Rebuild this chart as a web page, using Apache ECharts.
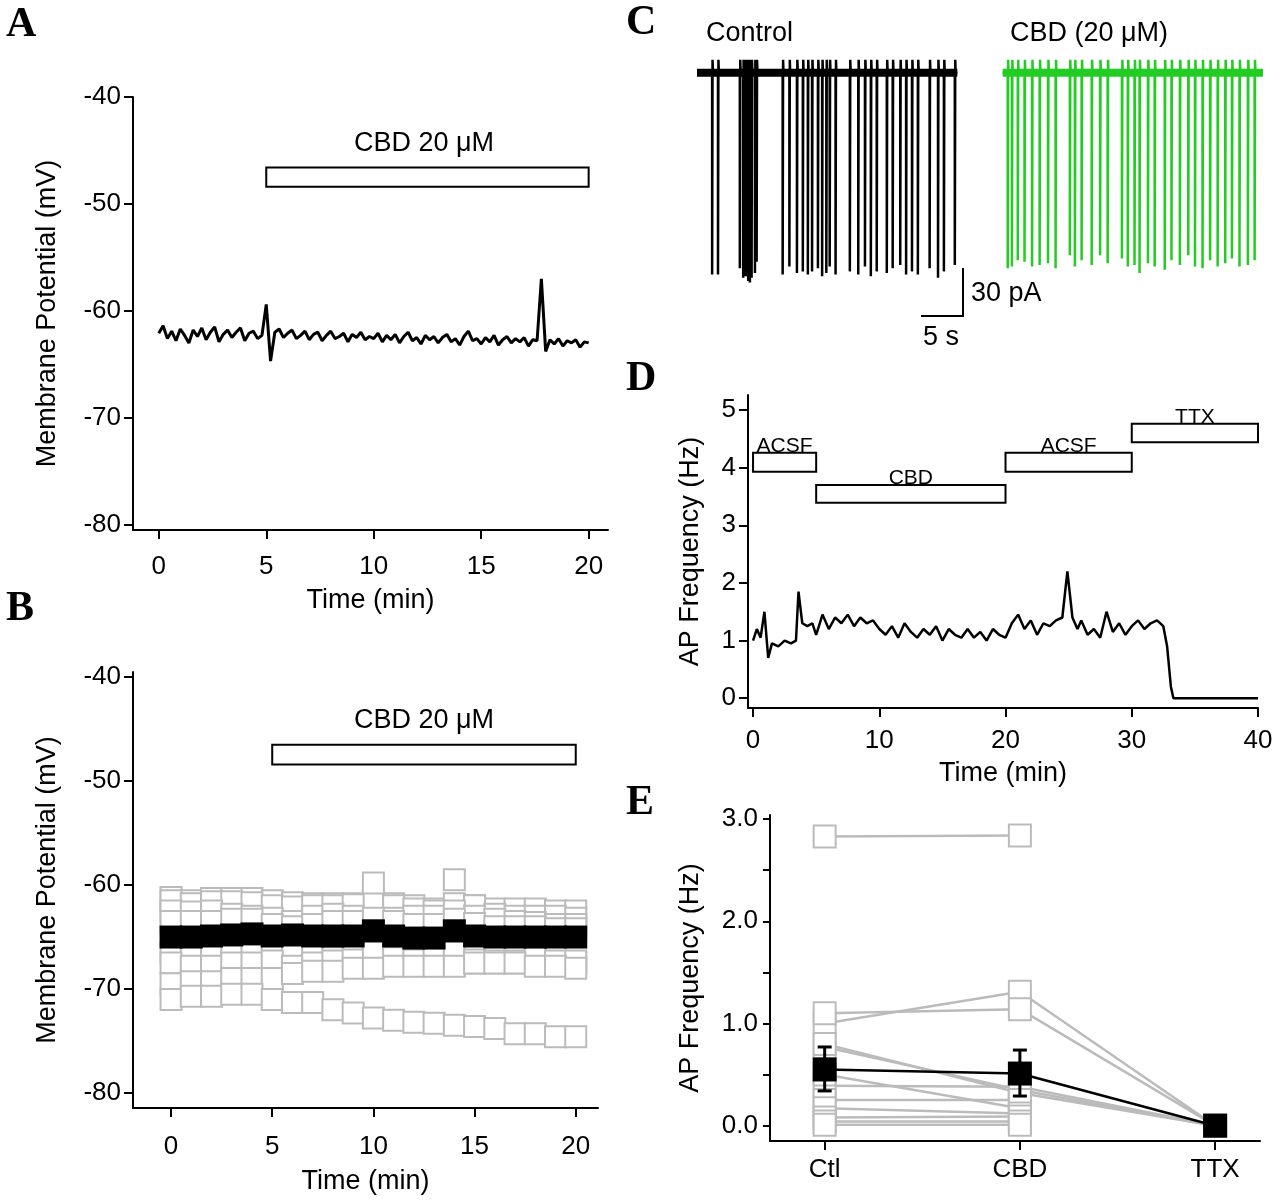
<!DOCTYPE html>
<html><head><meta charset="utf-8">
<script src="https://cdn.jsdelivr.net/npm/echarts@6/dist/echarts.min.js"></script>
<style>body{margin:0;background:#fff}#c{width:1280px;height:1201px}</style>
</head><body><div id="c"></div>
<script>
// A: membrane potential trace, sampled every 0.2 min
var aStep = 0.2;
var aVm = [-62.1,-61.4,-62.6,-61.9,-62.8,-61.7,-62.3,-63.0,-61.8,-62.4,-61.6,-62.7,-62.0,-61.5,-62.9,-62.2,-61.8,-62.5,-62.0,-61.6,-62.8,-62.1,-61.9,-62.6,-62.3,
  -59.4,-64.7,-62.0,-61.7,-62.5,-62.1,-61.8,-62.6,-62.3,-61.9,-62.7,-62.2,-62.0,-62.8,-62.3,-61.9,-62.6,-62.4,-62.1,-62.9,-62.2,-62.5,-62.0,-62.7,-62.4,
  -62.6,-62.1,-62.9,-62.3,-62.7,-62.2,-63.0,-62.4,-62.0,-62.8,-62.5,-63.1,-62.3,-62.7,-62.4,-63.0,-62.5,-62.2,-62.9,-62.6,-63.2,-62.4,-61.9,-62.8,-62.6,-63.1,-62.5,-62.9,-62.3,-63.2,-62.7,-62.4,-63.0,-62.6,-62.9,-62.5,-63.3,-62.7,-62.8,
  -57.0,-63.8,-62.7,-63.1,-62.6,-63.3,-62.8,-63.0,-62.7,-63.4,-62.9,-63.0];
var aBar = [[5, 20, -46.6, -48.4]];

// B: individual cells (one value per minute, 0..20) and mean
var bTime = [0,1,2,3,4,5,6,7,8,9,10,11,12,13,14,15,16,17,18,19,20];
var bCells = [
  [-61.2,-61.5,-61.3,-61.3,-61.3,-61.5,-61.7,-61.8,-61.8,-61.8,-61.6,-61.8,-62.0,-62.3,-61.8,-62.0,-62.3,-62.3,-62.3,-62.5,-62.5],
  [-61.5,-61.8,-61.6,-61.6,-61.7,-62.0,-62.1,-62.0,-62.0,-61.9,-59.8,-62.0,-62.3,-62.5,-59.5,-62.0,-62.8,-63.0,-63.0,-63.0,-63.2],
  [-62.5,-62.6,-62.5,-62.8,-63.0,-63.2,-63.5,-63.0,-62.8,-63.0,-63.5,-63.2,-63.0,-63.0,-62.5,-63.0,-63.3,-63.5,-63.6,-63.8,-63.8],
  [-63.5,-63.5,-63.5,-63.3,-63.3,-63.8,-64.0,-63.8,-63.5,-63.5,-63.2,-63.5,-63.8,-63.8,-63.3,-63.7,-64.0,-64.0,-64.0,-64.2,-64.2],
  [-66.5,-66.5,-66.3,-66.3,-66.3,-66.5,-66.8,-66.8,-67.0,-66.8,-66.5,-67.5,-67.5,-67.5,-67.5,-67.5,-67.5,-67.3,-67.5,-67.5,-67.5],
  [-67.5,-67.8,-67.8,-67.5,-67.5,-67.3,-67.8,-67.5,-67.3,-67.2,-66.5,-67.0,-67.2,-66.8,-66.5,-67.2,-67.3,-67.5,-67.0,-67.3,-67.3],
  [-69.5,-69.3,-69.3,-69.0,-69.0,-69.0,-68.5,-68.3,-68.3,-68.0,-68.0,-67.8,-67.8,-67.8,-67.8,-67.5,-67.5,-67.5,-67.8,-67.8,-68.0],
  [-71.0,-70.7,-70.7,-70.5,-70.5,-71.0,-71.3,-71.3,-72.0,-72.3,-72.8,-73.0,-73.2,-73.3,-73.5,-73.6,-73.8,-74.3,-74.3,-74.6,-74.6]
];
var bMean = [-65.0,-65.0,-64.9,-64.8,-64.7,-64.9,-64.8,-64.9,-64.9,-64.9,-64.4,-64.9,-65.1,-65.1,-64.4,-64.9,-65.0,-65.0,-65.0,-65.0,-65.0];
var bFit = [[0, -65], [20, -65]];
var bBar = [[5, 20, -46.5, -48.4]];

// C: current traces, spike times (s) and amplitudes (pA)
var cCtlStart = 0, cCtlEnd = 31;
var cCtlSpikes = [1.8,2.5,5.1,5.5,5.8,6.1,6.3,6.5,6.9,7.1,10.2,11.0,11.9,12.6,13.2,13.7,14.4,14.9,15.4,15.8,16.5,18.2,19.2,20.0,20.7,21.4,22.6,23.3,24.2,24.9,25.6,26.3,27.7,28.7,29.4,30.7];
var cCtlAmp = [-126,-126,-122,-128,-127,-130,-131,-128,-125,-118,-126,-121,-125,-124,-126,-124,-122,-127,-125,-121,-126,-124,-126,-121,-127,-124,-125,-122,-120,-126,-124,-126,-122,-128,-124,-120];
var cCbdStart = 36.4, cCbdEnd = 67.4;
var cCbdSpikes = [37.0,37.5,38.2,39.0,39.9,40.8,41.8,42.7,44.4,45.0,45.8,47.0,48.0,48.9,50.6,51.3,52.1,52.7,53.7,54.5,55.7,56.5,57.5,58.5,59.3,60.2,61.1,62.0,62.9,63.7,64.6,65.6,66.4];
var cCbdAmp = [-122,-121,-117,-118,-121,-120,-119,-122,-114,-121,-117,-120,-114,-119,-116,-121,-120,-125,-119,-121,-123,-117,-120,-114,-121,-122,-117,-121,-119,-116,-121,-120,-117];
var cBlip = 8; // small upward overshoot after each spike (pA)

// D: firing frequency time course
var dTrace = [[0,1.0],[0.3,1.2],[0.6,1.05],[0.9,1.5],[1.2,0.7],[1.5,0.95],[2,0.9],[2.5,1.0],[3,0.95],[3.4,1.0],[3.6,1.85],[3.9,1.3],[4.3,1.25],[4.7,1.3],[5,1.1],
  [5.5,1.45],[6,1.2],[6.5,1.4],[7,1.3],[7.5,1.45],[8,1.25],[8.5,1.4],[9,1.3],[9.5,1.35],[10,1.2],[10.5,1.1],[11,1.25],[11.5,1.05],[12,1.3],[12.5,1.15],
  [13,1.05],[13.5,1.2],[14,1.1],[14.5,1.25],[15,1.0],[15.5,1.2],[16,1.1],[16.5,1.05],[17,1.2],[17.5,1.05],[18,1.15],[18.5,1.0],[19,1.2],[19.5,1.1],[20,1.05],
  [20.5,1.3],[21,1.45],[21.5,1.2],[22,1.35],[22.5,1.1],[23,1.3],[23.5,1.25],[24,1.35],[24.5,1.4],[24.9,2.2],[25.3,1.4],[25.7,1.2],[26,1.35],[26.5,1.1],
  [27,1.2],[27.5,1.05],[28,1.5],[28.5,1.15],[29,1.3],[29.5,1.1],[30,1.25],[30.5,1.35],[31,1.2],[31.5,1.3],[32,1.35],[32.5,1.25],[32.8,0.9],[33.1,0.2],[33.3,0.0],[40,0.0]];
var dBars = [[0, 5, 4.26, 3.93, 'ACSF'], [5, 20, 3.70, 3.39, 'CBD'], [20, 30, 4.26, 3.93, 'ACSF'], [30, 40, 4.76, 4.44, 'TTX']];

// E: paired cells (Ctl, CBD, TTX) and mean ± SEM
var eCats = ['Ctl', 'CBD', 'TTX'];
var eCells = [
  [2.83, 2.84, null], [1.0, 1.31, 0], [1.10, 1.14, 0], [0.77, 0.35, 0], [0.39, 0.38, 0], [0.80, 0.32, 0],
  [0.5, 0.17, null], [0.25, 0.25, null], [0.17, 0.12, null], [0.08, 0.09, null], [0.04, 0.04, null], [0.01, 0.01, null]
];
var eMean = [0.55, 0.51, 0.0];
var eLow = [0.34, 0.29, 0.0];
var eHigh = [0.77, 0.74, 0.0];

var chart = echarts.init(document.getElementById('c'));
var FONT = 'Liberation Sans';
var gray = '#bbbbbb';

function boxItem(params, api) {
  var p0 = api.coord([api.value(0), api.value(2)]);
  var p1 = api.coord([api.value(1), api.value(3)]);
  var children = [{ type: 'rect', shape: { x: p0[0], y: p0[1], width: p1[0] - p0[0], height: p1[1] - p0[1] },
    style: { fill: '#fff', stroke: '#000', lineWidth: 2 } }];
  return { type: 'group', children: children };
}

function valAxis(gi, min, max, ticks, name, gap, margin) {
  return {
    type: 'value', gridIndex: gi, min: min, max: max,
    splitLine: { show: false },
    axisLine: { onZero: false, lineStyle: { color: '#000', width: 2 } },
    axisTick: { customValues: ticks, length: 9, lineStyle: { color: '#000', width: 2 } },
    axisLabel: { customValues: ticks, color: '#000', fontSize: 26, fontFamily: FONT, margin: margin || 12 },
    name: name, nameLocation: 'middle', nameGap: gap,
    nameTextStyle: { color: '#000', fontSize: 27, fontFamily: FONT }
  };
}
function hiddenAxis(gi, min, max) {
  return { type: 'value', gridIndex: gi, min: min, max: max, show: false, splitLine: { show: false } };
}

var series = [];
// A
series.push({ type: 'line', xAxisIndex: 0, yAxisIndex: 0, showSymbol: false, lineStyle: { color: '#000', width: 3 },
  data: aVm.map(function (v, i) { return [i * aStep, v]; }) });
series.push({ type: 'custom', xAxisIndex: 0, yAxisIndex: 0, renderItem: boxItem, data: aBar });
// B
bCells.forEach(function (c) {
  series.push({ type: 'line', xAxisIndex: 1, yAxisIndex: 1, symbol: 'rect', symbolSize: 21,
    lineStyle: { width: 0 }, itemStyle: { color: '#fff', borderColor: gray, borderWidth: 2 },
    data: bTime.map(function (t, i) { return [t, c[i]]; }) });
});
series.push({ type: 'line', xAxisIndex: 1, yAxisIndex: 1, symbol: 'rect', symbolSize: 23,
  lineStyle: { width: 0 }, itemStyle: { color: '#000' },
  data: bTime.map(function (t, i) { return [t, bMean[i]]; }) });
series.push({ type: 'line', xAxisIndex: 1, yAxisIndex: 1, showSymbol: false,
  lineStyle: { color: '#e00000', width: 5, type: [14, 10] }, data: bFit });
series.push({ type: 'custom', xAxisIndex: 1, yAxisIndex: 1, renderItem: boxItem, data: bBar });
// C
function spikeTrace(start, end, times, amps) {
  var d = [[start, 0]];
  times.forEach(function (t, i) { d.push([t, 0], [t, amps[i]], [t + 0.05, cBlip], [t + 0.1, 0]); });
  d.push([end, 0]);
  return d;
}
series.push({ type: 'line', xAxisIndex: 2, yAxisIndex: 2, showSymbol: false, lineStyle: { color: '#000', width: 2.5 },
  data: spikeTrace(cCtlStart, cCtlEnd, cCtlSpikes, cCtlAmp) });
series.push({ type: 'line', xAxisIndex: 2, yAxisIndex: 2, showSymbol: false, lineStyle: { color: '#22cc22', width: 2.5 },
  data: spikeTrace(cCbdStart, cCbdEnd, cCbdSpikes, cCbdAmp) });
series.push({ type: 'line', xAxisIndex: 2, yAxisIndex: 2, showSymbol: false, lineStyle: { color: '#000', width: 8 },
  data: [[cCtlStart, 0], [cCtlEnd, 0]] });
series.push({ type: 'line', xAxisIndex: 2, yAxisIndex: 2, showSymbol: false, lineStyle: { color: '#22cc22', width: 8 },
  data: [[cCbdStart, 0], [cCbdEnd, 0]] });
// D
series.push({ type: 'line', xAxisIndex: 3, yAxisIndex: 3, showSymbol: false, lineStyle: { color: '#000', width: 2.5 }, data: dTrace });
series.push({ type: 'custom', xAxisIndex: 3, yAxisIndex: 3, data: dBars, renderItem: function (params, api) {
  var g = boxItem(params, api);
  var x0 = api.coord([api.value(0), 0])[0], x1 = api.coord([api.value(1), 0])[0];
  var yt = api.coord([0, api.value(2)])[1];
  g.children.push({ type: 'text', style: { text: dBars[params.dataIndex][4], x: (x0 + x1) / 2, y: yt + 4,
    align: 'center', verticalAlign: 'bottom', fontSize: 21, fontFamily: FONT, fill: '#000' } });
  return g;
} });
// E
eCells.forEach(function (c) {
  series.push({ type: 'line', xAxisIndex: 4, yAxisIndex: 4, symbol: 'rect', symbolSize: 22, connectNulls: false,
    lineStyle: { color: gray, width: 2.5 }, itemStyle: { color: '#fff', borderColor: gray, borderWidth: 2 },
    data: c.map(function (v, i) { return [i, v]; }) });
});
series.push({ type: 'custom', xAxisIndex: 4, yAxisIndex: 4, z: 5, data: eMean.map(function (m, i) { return [i, eLow[i], eHigh[i]]; }),
  renderItem: function (params, api) {
    var lo = api.coord([api.value(0), api.value(1)]), hi = api.coord([api.value(0), api.value(2)]);
    var st = { stroke: '#000', lineWidth: 3 };
    return { type: 'group', children: [
      { type: 'line', shape: { x1: lo[0], y1: lo[1], x2: hi[0], y2: hi[1] }, style: st },
      { type: 'line', shape: { x1: lo[0] - 7, y1: lo[1], x2: lo[0] + 7, y2: lo[1] }, style: st },
      { type: 'line', shape: { x1: hi[0] - 7, y1: hi[1], x2: hi[0] + 7, y2: hi[1] }, style: st }
    ] };
  } });
series.push({ type: 'line', xAxisIndex: 4, yAxisIndex: 4, z: 6, symbol: 'rect', symbolSize: 24,
  lineStyle: { color: '#000', width: 2.5 }, itemStyle: { color: '#000' },
  data: eMean.map(function (v, i) { return [i, v]; }) });

var letter = function (t, x, y) {
  return { type: 'text', left: x, top: y, style: { text: t, fontSize: 42, fontWeight: 'bold', fontFamily: 'Liberation Serif', fill: '#000' } };
};
var txt = function (t, x, y) {
  return { type: 'text', left: x, top: y, style: { text: t, fontSize: 27, fontFamily: FONT, fill: '#000' } };
};

var option = {
  animation: false,
  grid: [
    { left: 133, top: 97, width: 475, height: 433 },
    { left: 133, top: 672, width: 465, height: 436 },
    { left: 697, top: 55, width: 566, height: 230 },
    { left: 748, top: 395, width: 510, height: 313 },
    { left: 770, top: 815, width: 490, height: 326 }
  ],
  xAxis: [
    valAxis(0, -1.2, 20.9, [0, 5, 10, 15, 20], 'Time (min)', 57, 24),
    valAxis(1, -1.88, 21.1, [0, 5, 10, 15, 20], 'Time (min)', 60, 26),
    hiddenAxis(2, 0, 67.4),
    valAxis(3, -0.4, 40, [0, 10, 20, 30, 40], 'Time (min)', 52, 20),
    valAxis(4, -0.28, 2.23, [0, 1, 2], '', 40, 16)
  ],
  yAxis: [
    valAxis(0, -80.5, -40, [-80, -70, -60, -50, -40], 'Membrane Potential (mV)', 72),
    valAxis(1, -81.45, -39.5, [-80, -70, -60, -50, -40], 'Membrane Potential (mV)', 72),
    hiddenAxis(2, -132.5, 11),
    valAxis(3, -0.17, 5.26, [0, 1, 2, 3, 4, 5], 'AP Frequency (Hz)', 44),
    valAxis(4, -0.15, 3.04, [0, 0.5, 1, 1.5, 2, 2.5, 3], 'AP Frequency (Hz)', 66)
  ],
  graphic: [
    letter('A', 6, 4), letter('B', 6, 588), letter('C', 626, 2), letter('D', 626, 358), letter('E', 626, 782),
    txt('CBD 20 μM', 354, 130), txt('CBD 20 μM', 354, 707),
    txt('Control', 706, 20), txt('CBD (20 μM)', 1010, 20),
    txt('30 pA', 971, 280), txt('5 s', 923, 324),
    { type: 'polyline', shape: { points: [[963, 268], [963, 316], [921, 316]] }, style: { stroke: '#000', lineWidth: 2, fill: null } }
  ],
  series: series
};
// E axis: category labels, 1-unit labels only
option.xAxis[4].axisLabel.formatter = function (v) { return eCats[Math.round(v)]; };
option.yAxis[4].axisLabel.customValues = [0, 1, 2, 3];
option.yAxis[4].axisLabel.formatter = function (v) { return v.toFixed(1); };
option.yAxis[4].axisTick.length = 7;
chart.setOption(option);
</script>
</body></html>
